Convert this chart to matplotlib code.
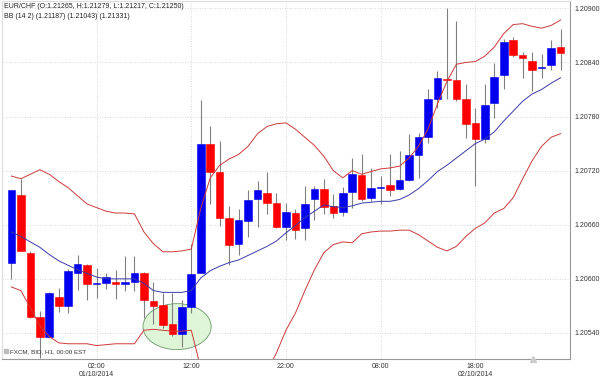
import numpy as np
import matplotlib
matplotlib.use("Agg")
import matplotlib.pyplot as plt
from matplotlib.patches import Ellipse

# EUR/CHF hourly candles
opens = [1.20618, 1.20693, 1.20629, 1.20558, 1.20535, 1.20580, 1.20570, 1.20607, 1.20615, 1.20594,
         1.20595, 1.20596, 1.20594, 1.20596, 1.20606, 1.20575, 1.20571, 1.20550, 1.20539, 1.20569,
         1.20607, 1.20750, 1.20719, 1.20667, 1.20639, 1.20664, 1.20689, 1.20695, 1.20684, 1.20657,
         1.20673, 1.20656, 1.20689, 1.20700, 1.20681, 1.20674, 1.20696, 1.20715, 1.20690, 1.20701,
         1.20704, 1.20700, 1.20710, 1.20737, 1.20757, 1.20800, 1.20821, 1.20820, 1.20800, 1.20773,
         1.20755, 1.20795, 1.20826, 1.20865, 1.20848, 1.20842, 1.20834, 1.20837, 1.20857]
highs = [1.20699, 1.20711, 1.20631, 1.20564, 1.20585, 1.20590, 1.20611, 1.20626, 1.20617, 1.20612,
         1.20607, 1.20610, 1.20625, 1.20625, 1.20608, 1.20597, 1.20584, 1.20584, 1.20576, 1.20639,
         1.20798, 1.20769, 1.20753, 1.20681, 1.20678, 1.20699, 1.20708, 1.20719, 1.20695, 1.20684,
         1.20678, 1.20703, 1.20703, 1.20711, 1.20694, 1.20702, 1.20734, 1.20738, 1.20723, 1.20714,
         1.20738, 1.20742, 1.20761, 1.20762, 1.20810, 1.20831, 1.20900, 1.20886, 1.20816, 1.20789,
         1.20816, 1.20839, 1.20866, 1.20868, 1.20852, 1.20852, 1.20849, 1.20865, 1.20877]
lows = [1.20600, 1.20631, 1.20557, 1.20512, 1.20534, 1.20563, 1.20562, 1.20588, 1.20576, 1.20579,
        1.20589, 1.20578, 1.20587, 1.20587, 1.20557, 1.20550, 1.20545, 1.20537, 1.20524, 1.20562,
        1.20607, 1.20683, 1.20659, 1.20615, 1.20627, 1.20646, 1.20657, 1.20672, 1.20656, 1.20643,
        1.20644, 1.20643, 1.20665, 1.20672, 1.20667, 1.20670, 1.20679, 1.20686, 1.20686, 1.20683,
        1.20692, 1.20698, 1.20709, 1.20712, 1.20751, 1.20790, 1.20799, 1.20797, 1.20756, 1.20703,
        1.20751, 1.20778, 1.20810, 1.20846, 1.20823, 1.20808, 1.20823, 1.20832, 1.20832]
closes = [1.20699, 1.20631, 1.20558, 1.20535, 1.20584, 1.20570, 1.20609, 1.20617, 1.20594, 1.20595,
          1.20602, 1.20594, 1.20596, 1.20606, 1.20576, 1.20570, 1.20549, 1.20539, 1.20569, 1.20605,
          1.20750, 1.20719, 1.20668, 1.20637, 1.20665, 1.20688, 1.20699, 1.20684, 1.20657, 1.20674,
          1.20654, 1.20683, 1.20700, 1.20680, 1.20673, 1.20695, 1.20716, 1.20689, 1.20701, 1.20702,
          1.20699, 1.20710, 1.20737, 1.20757, 1.20800, 1.20823, 1.20820, 1.20800, 1.20772, 1.20755,
          1.20793, 1.20824, 1.20863, 1.20848, 1.20845, 1.20832, 1.20835, 1.20856, 1.20850]

# Bollinger bands (14, 2)
bb_mid = [1.20652, 1.20647, 1.20641, 1.20635, 1.20627, 1.20620, 1.20615, 1.20610, 1.20606, 1.20602,
          1.20600, 1.20600, 1.20600, 1.20600, 1.20595, 1.20587, 1.20585, 1.20585, 1.20585, 1.20587,
          1.20601, 1.20609, 1.20614, 1.20618, 1.20621, 1.20626, 1.20631, 1.20636, 1.20642, 1.20651,
          1.20659, 1.20668, 1.20675, 1.20682, 1.20680, 1.20679, 1.20681, 1.20684, 1.20685, 1.20686,
          1.20686, 1.20688, 1.20693, 1.20700, 1.20709, 1.20719, 1.20726, 1.20734, 1.20742, 1.20750,
          1.20755, 1.20763, 1.20775, 1.20786, 1.20797, 1.20805, 1.20810, 1.20817, 1.20823]
bb_up = [1.20714, 1.20711, 1.20716, 1.20721, 1.20716, 1.20708, 1.20701, 1.20692, 1.20683, 1.20679,
         1.20675, 1.20673, 1.20673, 1.20672, 1.20652, 1.20639, 1.20630, 1.20630, 1.20631, 1.20633,
         1.20678, 1.20712, 1.20726, 1.20733, 1.20738, 1.20747, 1.20761, 1.20769, 1.20772, 1.20773,
         1.20766, 1.20757, 1.20748, 1.20736, 1.20720, 1.20712, 1.20720, 1.20716, 1.20719, 1.20722,
         1.20723, 1.20725, 1.20734, 1.20747, 1.20766, 1.20794, 1.20819, 1.20838, 1.20840, 1.20841,
         1.20847, 1.20857, 1.20872, 1.20882, 1.20883, 1.20880, 1.20878, 1.20881, 1.20887]
bb_low = [1.20591, 1.20587, 1.20568, 1.20548, 1.20536, 1.20529, 1.20528, 1.20528, 1.20528, 1.20526,
          1.20527, 1.20528, 1.20528, 1.20528, 1.20543, 1.20544, 1.20543, 1.20542, 1.20542, 1.20543,
          1.20501, 1.20471, 1.20454, 1.20443, 1.20443, 1.20454, 1.20471, 1.20498, 1.20518, 1.20543,
          1.20562, 1.20587, 1.20610, 1.20629, 1.20638, 1.20641, 1.20640, 1.20650, 1.20652, 1.20653,
          1.20653, 1.20654, 1.20654, 1.20649, 1.20642, 1.20635, 1.20631, 1.20636, 1.20647, 1.20656,
          1.20662, 1.20673, 1.20678, 1.20690, 1.20711, 1.20731, 1.20747, 1.20757, 1.20761]

tick_idx = [9, 19, 29, 39, 49]
tick_labels = ["02:00\n01/10/2014", "12:00", "22:00", "08:00", "18:00\n02/10/2014"]
price_ticks = [1.20540, 1.20600, 1.20660, 1.20720, 1.20780, 1.20840, 1.20900]

title_line = "EUR/CHF (O:1.21265, H:1.21279, L:1.21217, C:1.21250)"
bb_line = "BB (14 2) (1.21187) (1.21043) (1.21331)"
source_line = "FXCM, BID, H1, 00:00 EST"

# highlighted area (candle index / price)
ell_center = (17.5, 1.20547)
ell_w, ell_h = 7.2, 0.00051

plt.rcParams['font.family'] = ['Liberation Sans', 'DejaVu Sans']

fig = plt.figure(figsize=(6, 3.78), dpi=100)
ax = fig.add_axes([0.004, 0.05, 0.946, 0.947])

x = np.arange(len(opens))
o = np.array(opens)
c = np.array(closes)
up = c >= o

ax.add_patch(Ellipse(ell_center, ell_w, ell_h, facecolor='#dff5d8',
                     edgecolor='#6a9a6a', lw=0.6, zorder=1))

ax.vlines(x, lows, highs, color='#808080', lw=0.8, zorder=2)
body_bot = np.minimum(o, c)
body_h = np.maximum(np.abs(c - o), 0.000012)
cols = np.where(up, '#0000ee', '#ff0000')
ax.bar(x, body_h, bottom=body_bot, width=0.8, color=cols,
       edgecolor=cols, lw=0.4, zorder=3)

ax.plot(x, bb_up, color='#cc3a3a', lw=0.7, zorder=4)
ax.plot(x, bb_low, color='#cc3a3a', lw=0.7, zorder=4)
ax.plot(x, bb_mid, color='#3a3aaa', lw=0.7, zorder=4)

ax.set_xlim(-0.95, 59.0)
ax.set_ylim(1.20511, 1.20908)

ax.set_xticks(tick_idx)
ax.set_xticklabels(tick_labels)
ax.yaxis.tick_right()
ax.set_yticks(price_ticks)
ax.set_yticklabels([f"{v:.5f}" for v in price_ticks])
ax.tick_params(length=0, labelsize=5, colors='#333333', pad=3)
ax.grid(True, linestyle=(0, (1, 2)), color='#cccccc', lw=0.6)
ax.set_axisbelow(True)

for s in ['top', 'left']:
    ax.spines[s].set_color('#dddddd')
for s in ['bottom', 'right']:
    ax.spines[s].set_color('#999999')
for s in ax.spines.values():
    s.set_linewidth(0.8)

ax.text(0.002, 0.995, title_line, transform=ax.transAxes, fontsize=5,
        va='top', ha='left', color='#222222')
ax.text(0.002, 0.968, bb_line, transform=ax.transAxes, fontsize=5,
        va='top', ha='left', color='#222222')
ax.text(0.013, 0.014, source_line, transform=ax.transAxes, fontsize=4.5,
        va='bottom', ha='left', color='#333333')
ax.plot([0.007], [0.022], marker='s', ms=2.5, color='#bbbbbb',
        transform=ax.transAxes, clip_on=False)
ax.plot([55.1], [1.20511], marker='^', ms=5, color='#cccccc',
        clip_on=False, zorder=5)

fig.savefig("out.png", dpi=100)
